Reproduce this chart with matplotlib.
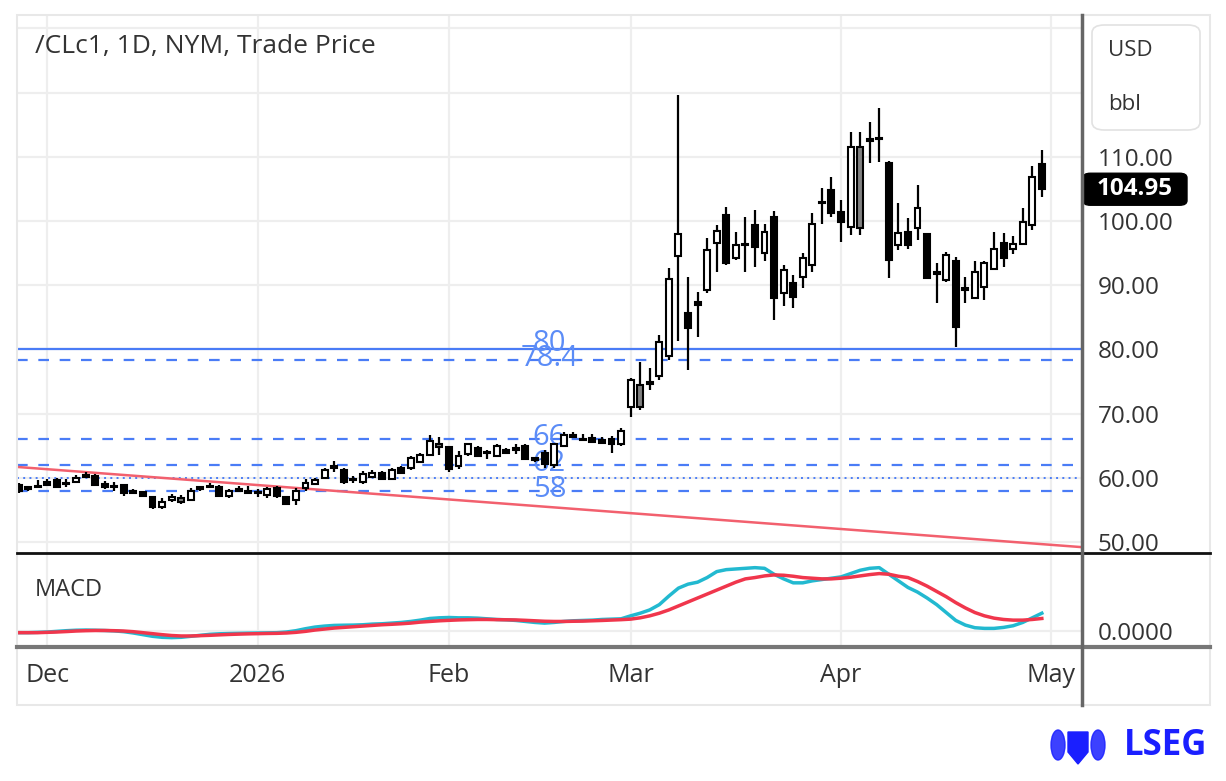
import numpy as np
import matplotlib
matplotlib.use('Agg')
import matplotlib.pyplot as plt
from matplotlib.patches import FancyBboxPatch, Rectangle, Polygon, Ellipse
from matplotlib.lines import Line2D
from matplotlib.transforms import blended_transform_factory

plt.rcParams['font.family'] = ['Open Sans', 'DejaVu Sans']

# ---------------- data ----------------
FIRST_BAR = -3   # three sessions before 1 Dec 2025
opens = [58.9, 58.6, 58.5, 59.3, 59.7, 59.0, 59.4, 60.5, 60.3, 59.0,
         58.7, 58.9, 58.0, 57.8, 57.0, 55.4, 56.5, 56.2, 56.6, 58.2,
         58.6, 58.6, 57.1, 58.0, 57.9, 57.8, 57.4, 58.4, 57.0, 56.5,
         58.4, 59.0, 60.0, 61.8, 61.2, 59.6, 59.3, 60.1, 60.8, 59.8,
         61.5, 61.5, 62.5, 63.6, 64.8, 64.8, 61.8, 63.7, 64.7, 63.8,
         63.4, 64.4, 64.4, 65.0, 63.1, 63.9, 62.0, 65.0, 66.4, 66.1,
         66.2, 65.9, 66.0, 65.3, 71.1, 71.0, 74.6, 75.8, 79.0, 94.5,
         85.6, 87.4, 89.3, 96.6, 100.9, 94.2, 96.2, 99.4, 95.0, 100.7,
         88.8, 90.3, 91.3, 93.1, 102.8, 104.8, 101.4, 99.1, 98.9, 112.5,
         112.9, 109.1, 96.3, 98.3, 98.9, 98.0, 91.8, 90.8, 93.7, 89.2,
         88.0, 89.8, 92.6, 96.6, 95.6, 96.4, 99.4, 108.9]
highs = [59.2, 58.8, 59.7, 59.8, 60.0, 59.8, 60.4, 60.9, 60.6, 59.5,
         59.4, 59.1, 58.3, 57.9, 57.2, 56.9, 57.5, 57.3, 58.4, 58.8,
         59.2, 58.9, 58.3, 58.7, 58.7, 58.2, 58.6, 58.7, 57.1, 58.4,
         59.8, 60.0, 61.6, 62.6, 61.5, 60.3, 61.0, 61.2, 61.0, 61.5,
         61.8, 63.4, 63.9, 66.6, 66.3, 65.0, 64.2, 65.5, 65.0, 64.4,
         65.2, 64.6, 65.3, 65.2, 63.3, 64.4, 65.5, 67.2, 67.1, 66.8,
         66.8, 66.3, 66.5, 67.8, 75.6, 78.1, 77.1, 82.3, 92.7, 119.6,
         91.3, 89.0, 97.4, 99.4, 102.2, 98.3, 100.7, 101.7, 99.6, 101.5,
         93.1, 91.6, 95.0, 101.2, 105.1, 106.9, 103.3, 113.8, 113.8, 115.5,
         117.6, 109.4, 102.8, 100.4, 105.6, 98.1, 93.4, 95.2, 94.4, 91.3,
         93.7, 93.8, 98.3, 98.1, 97.6, 102.0, 108.6, 111.0]
lows = [57.6, 58.0, 58.4, 58.7, 58.5, 58.6, 59.3, 60.0, 58.8, 58.3,
        57.9, 57.2, 57.5, 57.0, 55.2, 55.2, 56.3, 56.0, 56.4, 58.0,
        58.5, 57.0, 56.9, 57.9, 57.6, 57.0, 56.9, 56.9, 55.7, 55.8,
        58.0, 58.9, 59.8, 60.9, 59.1, 59.2, 59.0, 59.9, 59.6, 59.6,
        60.6, 61.2, 62.3, 63.4, 63.6, 60.9, 61.3, 63.4, 63.2, 62.9,
        63.2, 63.7, 63.7, 62.7, 62.5, 61.6, 61.6, 64.8, 66.2, 65.7,
        65.4, 65.3, 63.8, 65.0, 69.5, 70.5, 73.7, 75.3, 78.4, 81.3,
        76.8, 82.0, 88.8, 92.1, 93.1, 94.0, 92.1, 92.9, 93.8, 84.6,
        86.7, 86.4, 89.6, 92.1, 99.6, 100.7, 96.8, 97.8, 97.8, 109.0,
        109.2, 91.1, 95.5, 95.7, 97.0, 91.0, 87.2, 90.5, 80.4, 87.2,
        87.8, 87.7, 92.4, 92.9, 94.9, 96.3, 98.6, 103.7]
closes = [58.0, 58.3, 58.7, 58.9, 58.6, 59.2, 59.9, 60.2, 58.9, 58.5,
          58.6, 57.6, 57.7, 57.1, 55.4, 56.3, 57.0, 56.8, 58.0, 58.6,
          58.8, 57.1, 58.0, 58.2, 57.7, 57.6, 58.3, 57.1, 55.9, 58.0,
          59.2, 59.6, 61.2, 61.5, 59.3, 59.7, 60.6, 60.8, 59.8, 61.2,
          60.8, 63.1, 63.5, 65.8, 65.3, 61.3, 63.4, 65.2, 63.4, 64.0,
          65.0, 63.9, 64.6, 62.9, 62.7, 62.1, 65.2, 66.7, 66.6, 65.9,
          65.6, 65.5, 65.2, 67.3, 75.2, 74.4, 75.0, 81.1, 91.0, 98.0,
          83.3, 86.9, 95.5, 98.5, 93.4, 96.3, 96.4, 96.0, 98.3, 88.0,
          92.3, 88.2, 94.2, 99.6, 103.0, 101.2, 99.9, 111.6, 111.5, 112.7,
          112.7, 93.9, 98.1, 96.3, 102.0, 91.1, 92.0, 94.7, 83.5, 89.6,
          92.0, 93.4, 95.7, 94.2, 96.4, 99.9, 106.8, 104.95]

macd_line = [-0.25, -0.25, -0.2, -0.15, -0.05, 0.05, 0.12, 0.15, 0.12, 0.08,
             0.02, -0.1, -0.3, -0.55, -0.8, -0.95, -1.0, -0.95, -0.8, -0.65,
             -0.5, -0.42, -0.38, -0.35, -0.32, -0.3, -0.28, -0.25, -0.15, 0.05,
             0.35, 0.6, 0.75, 0.85, 0.88, 0.9, 0.95, 1.05, 1.1, 1.2,
             1.3, 1.45, 1.65, 1.9, 2.0, 2.05, 2.0, 2.0, 1.95, 1.85,
             1.75, 1.7, 1.6, 1.45, 1.3, 1.2, 1.3, 1.45, 1.55, 1.6,
             1.65, 1.75, 1.8, 1.85, 2.3, 2.7, 3.2, 4.0, 5.3, 6.5,
             7.1, 7.4, 8.1, 9.0, 9.3, 9.4, 9.5, 9.6, 9.5, 8.6,
             7.9, 7.3, 7.3, 7.6, 7.8, 8.0, 8.2, 8.7, 9.2, 9.5,
             9.6, 8.6, 7.6, 6.6, 5.9, 5.0, 4.0, 2.8, 1.6, 0.9,
             0.5, 0.4, 0.4, 0.55, 0.8, 1.3, 2.0, 2.7]
signal_line = [-0.25, -0.25, -0.25, -0.2, -0.15, -0.08, 0.0, 0.05, 0.08, 0.08,
               0.05, 0.0, -0.1, -0.25, -0.4, -0.55, -0.68, -0.75, -0.75, -0.7,
               -0.65, -0.58, -0.52, -0.47, -0.43, -0.4, -0.37, -0.35, -0.3, -0.2,
               -0.05, 0.15, 0.3, 0.45, 0.55, 0.65, 0.75, 0.85, 0.95, 1.02,
               1.1, 1.2, 1.35, 1.45, 1.55, 1.62, 1.68, 1.72, 1.75, 1.75,
               1.72, 1.7, 1.68, 1.62, 1.55, 1.48, 1.45, 1.45, 1.48, 1.5,
               1.55, 1.6, 1.66, 1.72, 1.8, 2.0, 2.3, 2.7, 3.2, 3.8,
               4.4, 5.0, 5.6, 6.2, 6.8, 7.4, 7.9, 8.1, 8.35, 8.5,
               8.45, 8.3, 8.1, 8.0, 7.9, 7.9, 8.0, 8.15, 8.35, 8.55,
               8.7, 8.6, 8.3, 8.1, 7.5, 6.8, 6.0, 5.2, 4.3, 3.5,
               2.8, 2.3, 1.95, 1.75, 1.65, 1.65, 1.75, 1.9]

month_pos = [0, 22, 42, 61, 83, 105]
month_labels = ['Dec', '2026', 'Feb', 'Mar', 'Apr', 'May']
price_ticks = [50, 60, 70, 80, 90, 100, 110]
grid_levels = [50, 60, 70, 80, 90, 100, 110, 120, 130]
fib_levels = [80, 78.4, 66, 62, 58]
fib_labels = ['80', '78.4', '66', '62', '58']
dotted_level = 60
trend_x = [-3.2, 108.2]
trend_y = [61.7, 49.2]
last_price = 104.95
title = '/CLc1, 1D, NYM, Trade Price'

# ---------------- layout ----------------
W, H = 1226, 781
fig = plt.figure(figsize=(W / 100, H / 100), dpi=100)
fig.patch.set_facecolor('white')

def fx(px):
    return px / W

def fy(py):
    return 1 - py / H

L, R, T, B1, B2 = 17, 1082, 15, 553, 647
ax = fig.add_axes([fx(L), fy(B1), (R - L) / W, (B1 - T) / H])
axm = fig.add_axes([fx(L), fy(B2), (R - L) / W, (B2 - B1) / H], sharex=ax)

ax.set_xlim(-3.17, 108.2)
ax.set_ylim(48.29, 132.09)
axm.set_ylim(-2.42, 11.82)

for a in (ax, axm):
    for s in a.spines.values():
        s.set_visible(False)
    a.set_facecolor('none')

GRID = '#eeeeee'
for lv in grid_levels:
    ax.axhline(lv, color=GRID, lw=1.6, zorder=0)
for mp in month_pos:
    ax.axvline(mp, color=GRID, lw=1.6, zorder=0)
    axm.axvline(mp, color=GRID, lw=1.6, zorder=0)
axm.axhline(0, color=GRID, lw=1.6, zorder=0)

# price ticks on right
ax.yaxis.tick_right()
ax.set_yticks(price_ticks)
ax.set_yticklabels([f'{v:.2f}' for v in price_ticks])
ax.tick_params(axis='y', length=0, pad=11.5, labelsize=17.5, labelcolor='#333333')
ax.tick_params(axis='x', length=0, labelbottom=False)
axm.yaxis.tick_right()
axm.set_yticks([0])
axm.set_yticklabels(['0.0000'])
axm.tick_params(axis='y', length=0, pad=11.5, labelsize=17.5, labelcolor='#333333')
axm.set_xticks(month_pos)
axm.tick_params(axis='x', length=0, labelbottom=False)

# month labels
tr = blended_transform_factory(axm.transData, fig.transFigure)
for mp, lab in zip(month_pos, month_labels):
    axm.text(mp, fy(676), lab, transform=tr, ha='center', va='center',
             fontsize=18, color='#333333', clip_on=False)

# fib / support lines
BLUE = '#4a7cf6'
for lv in fib_levels:
    if lv == 80:
        ax.axhline(lv, color=BLUE, lw=1.6, zorder=1)
    else:
        ax.axhline(lv, color=BLUE, lw=1.6, dashes=(4.8, 4.8), zorder=1)
ax.axhline(dotted_level, color=BLUE, lw=1.4, linestyle=(0, (1, 2.2)), zorder=1)
for lv, lab in zip(fib_levels, fib_labels):
    dy = 4 if lv == 80 else 1
    ax.annotate(lab, xy=(52.5, lv), xytext=(0, dy), textcoords='offset points',
                ha='center', va='center', fontsize=21, color='#5b8cf7', zorder=2)

# trendline
ax.plot(trend_x, trend_y, color='#f2606e', lw=1.8, zorder=2, solid_capstyle='butt')

# candles
x = np.arange(len(closes)) + FIRST_BAR
o = np.array(opens); h = np.array(highs); l = np.array(lows); c = np.array(closes)
faces = []
for i in range(len(c)):
    if c[i] < o[i]:
        faces.append('#000000')
    elif i > 0 and c[i] < c[i - 1]:
        faces.append('#808080')
    else:
        faces.append('#ffffff')
ax.vlines(x, l, h, color='#000000', lw=1.6, zorder=3)
body_h = np.maximum(np.abs(c - o), 0.2)
body_b = np.minimum(o, c)
ax.bar(x, body_h, bottom=body_b, width=0.62, color=faces, edgecolor='#000000',
       linewidth=1.5, zorder=4)

# MACD
axm.plot(x, macd_line, color='#22b9d0', lw=2.5, zorder=3)
axm.plot(x, signal_line, color='#f0364c', lw=2.5, zorder=4)

# titles
fig.text(fx(35), fy(47), title, ha='left', va='center', fontsize=19, color='#333333')
fig.text(fx(35), fy(590), 'MACD', ha='left', va='center', fontsize=17, color='#333333')

# frame lines
fig.add_artist(Rectangle((fx(17), fy(705)), (1210 - 17) / W, (705 - 15) / H,
                         transform=fig.transFigure, fill=False, ec='#e8e8e8', lw=1.5))
fig.add_artist(Line2D([fx(17), fx(1210)], [fy(553), fy(553)], color='#111111', lw=2))
fig.add_artist(Line2D([fx(17), fx(1210)], [fy(647), fy(647)], color='#777777', lw=3))
fig.add_artist(Line2D([fx(1082), fx(1082)], [fy(15), fy(705)], color='#666666', lw=2.5))

# USD / bbl box
fig.add_artist(FancyBboxPatch((fx(1092), fy(130)), (1200 - 1092) / W, (130 - 25) / H,
                              boxstyle='round,pad=0,rounding_size=0.01',
                              transform=fig.transFigure, fc='white', ec='#e2e2e2', lw=1.2))
fig.text(fx(1108), fy(50), 'USD', ha='left', va='center', fontsize=16, color='#333333')
fig.text(fx(1108), fy(105), 'bbl', ha='left', va='center', fontsize=16, color='#333333')

# last price tag
ypix = ax.transData.transform((0, last_price))[1]
yf = ypix / fig.bbox.height
bh = 32 / H
fig.add_artist(FancyBboxPatch((fx(1083), yf - bh / 2), (1187 - 1083) / W, bh,
                              boxstyle='round,pad=0,rounding_size=0.006',
                              transform=fig.transFigure, fc='black', ec='black'))
fig.text(fx(1135), yf, f'{last_price:.2f}', ha='center', va='center', fontsize=17.5,
         fontweight='bold', color='white')

# LSEG logo
LB = '#1a1fff'
fig.add_artist(Polygon([[fx(1068), fy(732)], [fx(1088), fy(732)], [fx(1088), fy(752)],
                        [fx(1078), fy(764)], [fx(1068), fy(752)]],
                       closed=True, transform=fig.transFigure, fc=LB, ec=LB))
fig.add_artist(Ellipse((fx(1058), fy(745)), 14 / W, 30 / H, transform=fig.transFigure,
                       fc=LB, ec=LB, alpha=0.85))
fig.add_artist(Ellipse((fx(1098), fy(745)), 14 / W, 30 / H, transform=fig.transFigure,
                       fc=LB, ec=LB, alpha=0.85))
fig.text(fx(1124), fy(746), 'LSEG', ha='left', va='center', fontsize=25,
         fontweight='bold', color=LB)

fig.savefig('out.png', dpi=100, facecolor='white')
